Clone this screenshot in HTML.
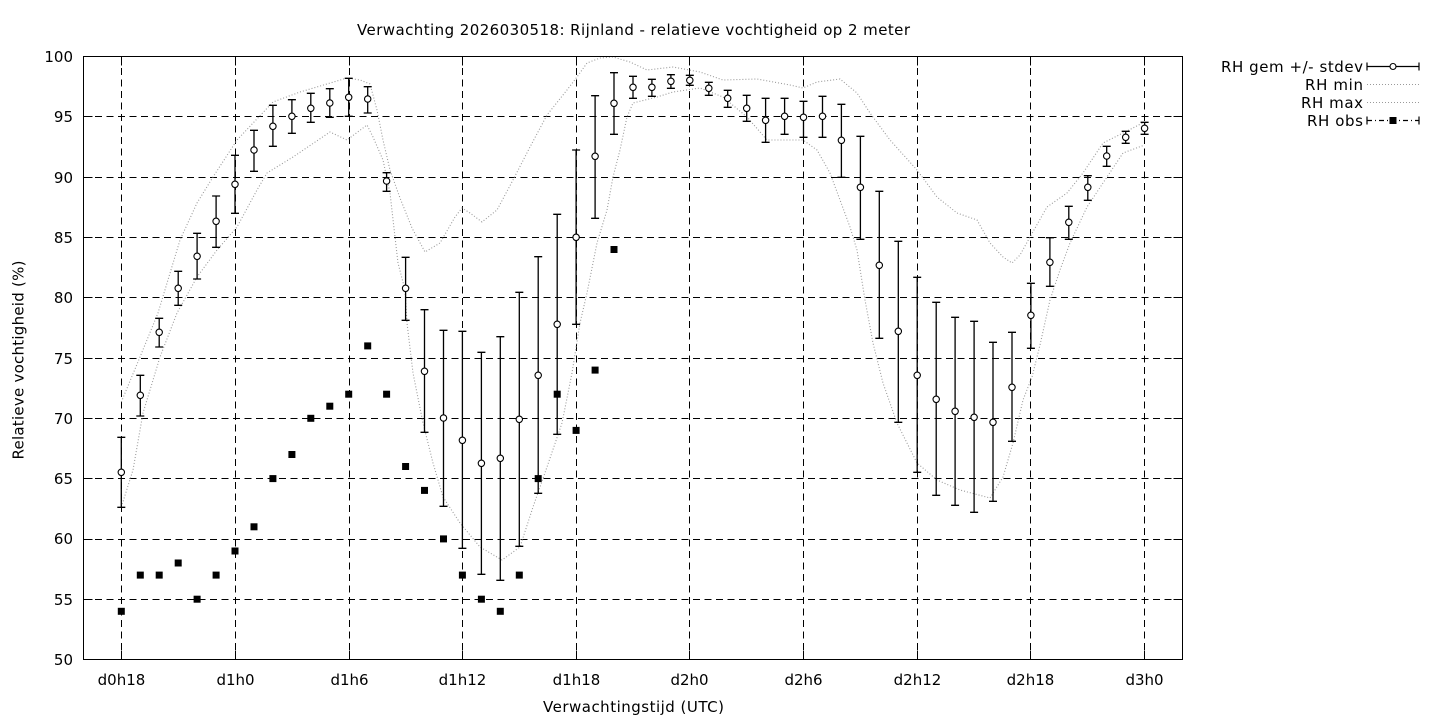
<!DOCTYPE html>
<html><head><meta charset="utf-8"><style>
html,body{margin:0;padding:0;background:#fff;}
svg{display:block;}
text{font-family:"DejaVu Sans","Liberation Sans",sans-serif;font-size:15px;fill:#000;}
</style></head><body>
<svg width="1440" height="720" viewBox="0 0 1440 720" xmlns="http://www.w3.org/2000/svg">
<rect width="1440" height="720" fill="#fff"/>
<!-- grid -->
<g stroke="#000" stroke-width="1" stroke-dasharray="7,4.5" fill="none">
<path d="M83.5,599.5H1182.5M83.5,539.5H1182.5M83.5,478.5H1182.5M83.5,418.5H1182.5M83.5,358.5H1182.5M83.5,297.5H1182.5M83.5,237.5H1182.5M83.5,177.5H1182.5M83.5,116.5H1182.5"/>
<path d="M121.5,56.5V659.5M235.5,56.5V659.5M349.5,56.5V659.5M462.5,56.5V659.5M576.5,56.5V659.5M689.5,56.5V659.5M803.5,56.5V659.5M917.5,56.5V659.5M1030.5,56.5V659.5M1144.5,56.5V659.5"/>
</g>
<!-- ticks -->
<g stroke="#000" stroke-width="1" fill="none">
<path d="M83.5,599.5h9M83.5,539.5h9M83.5,478.5h9M83.5,418.5h9M83.5,358.5h9M83.5,297.5h9M83.5,237.5h9M83.5,177.5h9M83.5,116.5h9"/>
<path d="M1182.5,599.5h-9M1182.5,539.5h-9M1182.5,478.5h-9M1182.5,418.5h-9M1182.5,358.5h-9M1182.5,297.5h-9M1182.5,237.5h-9M1182.5,177.5h-9M1182.5,116.5h-9"/>
<path d="M121.5,659.5v-9M235.5,659.5v-9M349.5,659.5v-9M462.5,659.5v-9M576.5,659.5v-9M689.5,659.5v-9M803.5,659.5v-9M917.5,659.5v-9M1030.5,659.5v-9M1144.5,659.5v-9"/>
<path d="M121.5,56.5v9M235.5,56.5v9M349.5,56.5v9M462.5,56.5v9M576.5,56.5v9M689.5,56.5v9M803.5,56.5v9M917.5,56.5v9M1030.5,56.5v9M1144.5,56.5v9"/>
</g>
<!-- min/max dotted -->
<g stroke="#9a9a9a" stroke-width="1.1" stroke-dasharray="1,2" fill="none">
<polyline points="121.3,402 140,357 158,313 180,240 197,203 213,177 237,140 273,102 300,92 347,78 360,80 370,84 377,110 383,140 390,170 400,198 412,228 425,252 440,243 455,217 462,208 470,213 482,222 497,210 513,180 530,147 547,115 567,90 577,77 587,63 600,58 613,57 630,62 647,70 673,67 700,72 723,80 757,79 790,85 803,88 817,82 840,79 857,93 870,113 890,140 917,170 937,197 957,213 977,220 990,243 1003,257 1012,263 1020,255 1030,237 1047,207 1067,193 1083,173 1103,143 1123,133 1144.6,122"/>
<polyline points="121.3,507 133,470 143,413 160,357 177,313 197,277 217,250 237,227 257,190 267,173 293,157 330,132 347,140 367,125 373,137 383,160 390,193 395,237 398,263 405,290 407,323 413,373 423,423 433,463 443,497 460,523 480,547 502,560 520,547 533,507 547,467 562,423 572,373 580,323 587,293 597,243 607,210 613,177 620,150 627,117 633,103 657,97 673,92 700,88 723,97 747,117 767,140 803,140 817,150 830,173 840,200 850,227 857,250 865,300 873,343 883,383 897,423 917,463 937,480 960,490 990,498 1003,477 1013,443 1023,400 1032,377 1040,345 1050,300 1060,270 1070,243 1087,207 1107,177 1123,153 1144.6,145"/>
</g>
<!-- error bars -->
<path stroke="#000" stroke-width="1.3" fill="none" d="M121.3,437.3V507.3M117.3,437.3h8M117.3,507.3h8 M140.3,375.3V416M136.3,375.3h8M136.3,416h8 M159.2,318.3V347M155.2,318.3h8M155.2,347h8 M178.2,271.3V305.3M174.2,271.3h8M174.2,305.3h8 M197.1,233.3V279M193.1,233.3h8M193.1,279h8 M216.1,196V247.3M212.1,196h8M212.1,247.3h8 M235,155.3V213.3M231,155.3h8M231,213.3h8 M254,130.3V171.3M250,130.3h8M250,171.3h8 M272.9,105.3V146.3M268.9,105.3h8M268.9,146.3h8 M291.9,99.7V133.3M287.9,99.7h8M287.9,133.3h8 M310.8,93.3V122.3M306.8,93.3h8M306.8,122.3h8 M329.8,88.7V117.3M325.8,88.7h8M325.8,117.3h8 M348.7,78.3V116.3M344.7,78.3h8M344.7,116.3h8 M367.7,86.7V113M363.7,86.7h8M363.7,113h8 M386.6,172.7V191.3M382.6,172.7h8M382.6,191.3h8 M405.6,257.3V320.3M401.6,257.3h8M401.6,320.3h8 M424.5,309.7V432.3M420.5,309.7h8M420.5,432.3h8 M443.5,330.3V506.3M439.5,330.3h8M439.5,506.3h8 M462.4,331.3V548.3M458.4,331.3h8M458.4,548.3h8 M481.4,352.3V574.3M477.4,352.3h8M477.4,574.3h8 M500.3,336.7V580.3M496.3,336.7h8M496.3,580.3h8 M519.3,292.3V546.3M515.3,292.3h8M515.3,546.3h8 M538.2,256.7V493.3M534.2,256.7h8M534.2,493.3h8 M557.2,214.3V434.3M553.2,214.3h8M553.2,434.3h8 M576.1,150V324.3M572.1,150h8M572.1,324.3h8 M595.1,95.7V218.3M591.1,95.7h8M591.1,218.3h8 M614,72.7V134.3M610,72.7h8M610,134.3h8 M633,76.3V98.3M629,76.3h8M629,98.3h8 M651.9,79.3V96.3M647.9,79.3h8M647.9,96.3h8 M670.9,74.7V88.3M666.9,74.7h8M666.9,88.3h8 M689.8,75.3V85.3M685.8,75.3h8M685.8,85.3h8 M708.8,82.3V95.3M704.8,82.3h8M704.8,95.3h8 M727.7,90.3V107.3M723.7,90.3h8M723.7,107.3h8 M746.7,95.3V121.3M742.7,95.3h8M742.7,121.3h8 M765.6,98.3V142.3M761.6,98.3h8M761.6,142.3h8 M784.6,98.3V134.3M780.6,98.3h8M780.6,134.3h8 M803.5,101.3V137.3M799.5,101.3h8M799.5,137.3h8 M822.5,96.3V137.3M818.5,96.3h8M818.5,137.3h8 M841.4,104.3V177.3M837.4,104.3h8M837.4,177.3h8 M860.4,136.3V239.3M856.4,136.3h8M856.4,239.3h8 M879.3,191.3V338.3M875.3,191.3h8M875.3,338.3h8 M898.3,241.3V422.3M894.3,241.3h8M894.3,422.3h8 M917.2,277.3V472.3M913.2,277.3h8M913.2,472.3h8 M936.2,302.3V495.3M932.2,302.3h8M932.2,495.3h8 M955.1,317.3V505.3M951.1,317.3h8M951.1,505.3h8 M974.1,321.3V512.3M970.1,321.3h8M970.1,512.3h8 M993,342.3V501.3M989,342.3h8M989,501.3h8 M1012,332.3V441.3M1008,332.3h8M1008,441.3h8 M1030.9,283.3V348.3M1026.9,283.3h8M1026.9,348.3h8 M1049.9,237.7V286.3M1045.9,237.7h8M1045.9,286.3h8 M1068.8,206.3V239.3M1064.8,206.3h8M1064.8,239.3h8 M1087.8,175.7V200.3M1083.8,175.7h8M1083.8,200.3h8 M1106.7,146.3V166.3M1102.7,146.3h8M1102.7,166.3h8 M1125.7,131.3V143.3M1121.7,131.3h8M1121.7,143.3h8 M1144.6,122.3V134.3M1140.6,122.3h8M1140.6,134.3h8"/>
<!-- mean circles -->
<g fill="#fff" stroke="#000" stroke-width="1.1">
<circle cx="121.3" cy="472.3" r="3.2"/><circle cx="140.3" cy="395.3" r="3.2"/><circle cx="159.2" cy="332.3" r="3.2"/><circle cx="178.2" cy="288.3" r="3.2"/><circle cx="197.1" cy="256.3" r="3.2"/><circle cx="216.1" cy="221.3" r="3.2"/><circle cx="235" cy="184.3" r="3.2"/><circle cx="254" cy="150" r="3.2"/><circle cx="272.9" cy="126.3" r="3.2"/><circle cx="291.9" cy="116.3" r="3.2"/><circle cx="310.8" cy="108.3" r="3.2"/><circle cx="329.8" cy="103" r="3.2"/><circle cx="348.7" cy="97.3" r="3.2"/><circle cx="367.7" cy="99" r="3.2"/><circle cx="386.6" cy="181" r="3.2"/><circle cx="405.6" cy="288.3" r="3.2"/><circle cx="424.5" cy="371.3" r="3.2"/><circle cx="443.5" cy="418" r="3.2"/><circle cx="462.4" cy="440.3" r="3.2"/><circle cx="481.4" cy="463.3" r="3.2"/><circle cx="500.3" cy="458.3" r="3.2"/><circle cx="519.3" cy="419.3" r="3.2"/><circle cx="538.2" cy="375.3" r="3.2"/><circle cx="557.2" cy="324.3" r="3.2"/><circle cx="576.1" cy="237.3" r="3.2"/><circle cx="595.1" cy="156.3" r="3.2"/><circle cx="614" cy="103.3" r="3.2"/><circle cx="633" cy="87.3" r="3.2"/><circle cx="651.9" cy="87.3" r="3.2"/><circle cx="670.9" cy="81.3" r="3.2"/><circle cx="689.8" cy="80.3" r="3.2"/><circle cx="708.8" cy="88.3" r="3.2"/><circle cx="727.7" cy="98.3" r="3.2"/><circle cx="746.7" cy="108.3" r="3.2"/><circle cx="765.6" cy="120.3" r="3.2"/><circle cx="784.6" cy="116.3" r="3.2"/><circle cx="803.5" cy="117.3" r="3.2"/><circle cx="822.5" cy="116.3" r="3.2"/><circle cx="841.4" cy="140.3" r="3.2"/><circle cx="860.4" cy="187.3" r="3.2"/><circle cx="879.3" cy="265.3" r="3.2"/><circle cx="898.3" cy="331.3" r="3.2"/><circle cx="917.2" cy="375.3" r="3.2"/><circle cx="936.2" cy="399.3" r="3.2"/><circle cx="955.1" cy="411.3" r="3.2"/><circle cx="974.1" cy="417.3" r="3.2"/><circle cx="993" cy="422.3" r="3.2"/><circle cx="1012" cy="387.3" r="3.2"/><circle cx="1030.9" cy="315.3" r="3.2"/><circle cx="1049.9" cy="262.3" r="3.2"/><circle cx="1068.8" cy="222.3" r="3.2"/><circle cx="1087.8" cy="187.3" r="3.2"/><circle cx="1106.7" cy="156" r="3.2"/><circle cx="1125.7" cy="137.3" r="3.2"/><circle cx="1144.6" cy="128.3" r="3.2"/>
</g>
<!-- observations -->
<g fill="#000">
<rect x="117.8" y="607.8" width="7" height="7"/><rect x="136.8" y="571.6" width="7" height="7"/><rect x="155.7" y="571.6" width="7" height="7"/><rect x="174.7" y="559.5" width="7" height="7"/><rect x="193.6" y="595.7" width="7" height="7"/><rect x="212.6" y="571.6" width="7" height="7"/><rect x="231.5" y="547.5" width="7" height="7"/><rect x="250.5" y="523.3" width="7" height="7"/><rect x="269.4" y="475.1" width="7" height="7"/><rect x="288.4" y="451" width="7" height="7"/><rect x="307.3" y="414.8" width="7" height="7"/><rect x="326.3" y="402.7" width="7" height="7"/><rect x="345.2" y="390.7" width="7" height="7"/><rect x="364.2" y="342.4" width="7" height="7"/><rect x="383.1" y="390.7" width="7" height="7"/><rect x="402.1" y="463" width="7" height="7"/><rect x="421" y="486.9" width="7" height="7"/><rect x="440" y="535.4" width="7" height="7"/><rect x="458.9" y="571.6" width="7" height="7"/><rect x="477.9" y="595.7" width="7" height="7"/><rect x="496.8" y="607.8" width="7" height="7"/><rect x="515.8" y="571.6" width="7" height="7"/><rect x="534.7" y="475.1" width="7" height="7"/><rect x="553.7" y="390.7" width="7" height="7"/><rect x="572.6" y="426.9" width="7" height="7"/><rect x="591.6" y="366.6" width="7" height="7"/><rect x="610.5" y="246" width="7" height="7"/>
</g>
<!-- frame -->
<rect x="83.5" y="56.5" width="1099" height="603" fill="none" stroke="#000" stroke-width="1"/>
<!-- y labels -->
<g text-anchor="end">
<text x="73" y="665">50</text><text x="73" y="605">55</text><text x="73" y="544">60</text><text x="73" y="484">65</text><text x="73" y="424">70</text><text x="73" y="364">75</text><text x="73" y="303">80</text><text x="73" y="243">85</text><text x="73" y="183">90</text><text x="73" y="122">95</text><text x="73" y="62">100</text>
</g>
<!-- x labels -->
<g text-anchor="middle">
<text x="121.5" y="685">d0h18</text><text x="235.5" y="685">d1h0</text><text x="349.5" y="685">d1h6</text><text x="462.5" y="685">d1h12</text><text x="576.5" y="685">d1h18</text><text x="689.5" y="685">d2h0</text><text x="803.5" y="685">d2h6</text><text x="917.5" y="685">d2h12</text><text x="1030.5" y="685">d2h18</text><text x="1144.5" y="685">d3h0</text>
</g>
<text x="543" y="712" textLength="181" lengthAdjust="spacing">Verwachtingstijd (UTC)</text>
<text x="357" y="35" textLength="553" lengthAdjust="spacing">Verwachting 2026030518: Rijnland - relatieve vochtigheid op 2 meter</text>
<text x="23.5" y="459.5" textLength="199" lengthAdjust="spacing" transform="rotate(-90 23.5 459.5)">Relatieve vochtigheid (%)</text>
<!-- legend -->
<text x="1221" y="72" textLength="142" lengthAdjust="spacing">RH gem +/- stdev</text>
<text x="1305" y="90" textLength="58" lengthAdjust="spacing">RH min</text>
<text x="1301" y="108" textLength="62" lengthAdjust="spacing">RH max</text>
<text x="1307" y="126" textLength="56" lengthAdjust="spacing">RH obs</text>
<path stroke="#000" stroke-width="1.2" fill="none" d="M1367,66.5H1419M1367,62.5v8M1419,62.5v8"/>
<circle cx="1393" cy="66.5" r="3" fill="#fff" stroke="#000" stroke-width="1.1"/>
<path stroke="#9a9a9a" stroke-width="1.1" stroke-dasharray="1,2" d="M1367,84.5H1419M1367,102.5H1419"/>
<path stroke="#000" stroke-width="1.2" fill="none" stroke-dasharray="5,3,1,3" d="M1367,120.5H1419"/>
<path stroke="#000" stroke-width="1.2" fill="none" d="M1367,116.5v8M1419,116.5v8"/>
<rect x="1389.5" y="117" width="7" height="7" fill="#000"/>
</svg>
</body></html>
